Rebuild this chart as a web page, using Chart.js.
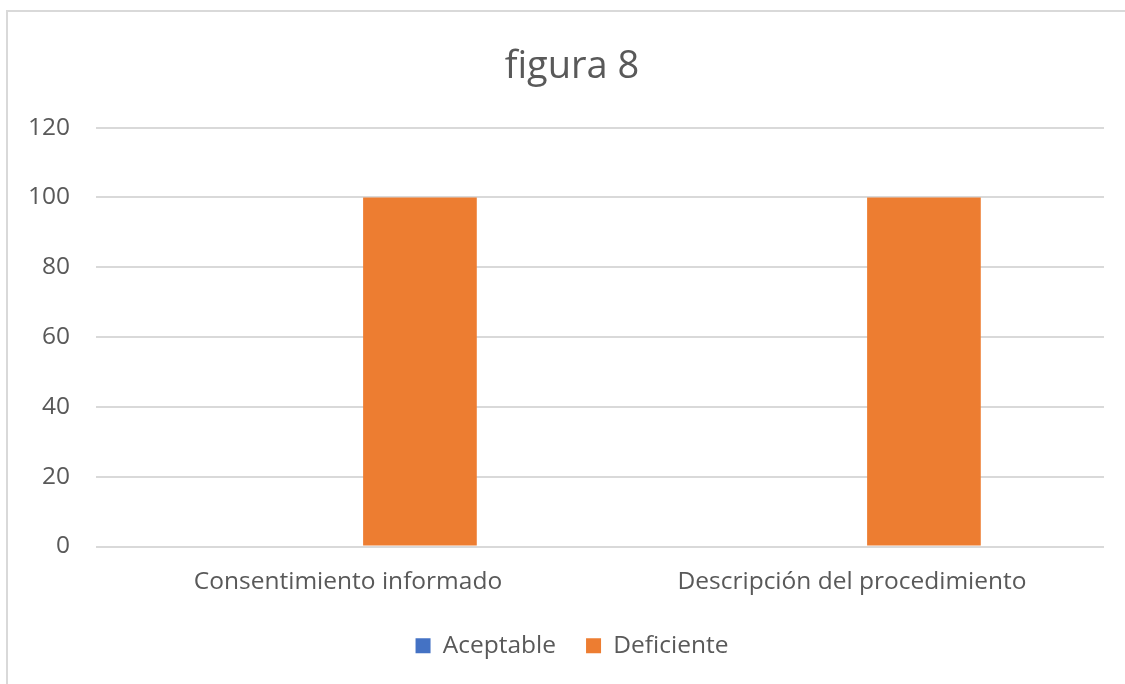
<!DOCTYPE html>
<html>
<head>
<meta charset="utf-8">
<script src="https://cdn.jsdelivr.net/npm/chart.js@4/dist/chart.umd.min.js"></script>
<style>
  html, body { margin: 0; padding: 0; background: #ffffff; }
  #wrap { position: relative; width: 1125px; height: 684px; overflow: hidden; }
  #frame { position: absolute; left: 6px; top: 10px; width: 1200px; height: 800px;
           border: 2px solid #d9d9d9; box-sizing: border-box; }
  canvas { position: absolute; left: 0; top: 0; }
</style>
</head>
<body>
<div id="wrap">
  <div id="frame"></div>
  <canvas id="c" width="1125" height="684"></canvas>
</div>
<script>
// Categories, series and axis ticks
const categories = ["Consentimiento informado", "Descripción del procedimiento"];
const aceptable = [0, 0];
const deficiente = [100, 100];
const yTicks = [0, 20, 40, 60, 80, 100, 120];

const FONT = "'Open Sans', sans-serif";
const TEXT = "#595959";

new Chart(document.getElementById("c"), {
  type: "bar",
  data: {
    labels: categories,
    datasets: [
      { label: "Aceptable", data: aceptable, backgroundColor: "#4472C4",
        categoryPercentage: 0.571, barPercentage: 0.79 },
      { label: "Deficiente", data: deficiente, backgroundColor: "#ED7D31",
        categoryPercentage: 0.571, barPercentage: 0.79 }
    ]
  },
  options: {
    responsive: false,
    animation: false,
    layout: { padding: { left: 19, right: 0, top: 0, bottom: 16 } },
    plugins: {
      title: {
        display: true, text: "figura 8", color: TEXT,
        font: { family: FONT, size: 38, weight: "normal" },
        padding: { top: 44, bottom: 38 }
      },
      legend: {
        position: "bottom",
        labels: {
          color: TEXT, font: { family: FONT, size: 24.5 },
          boxWidth: 15, boxHeight: 15, padding: 30
        }
      },
      tooltip: { enabled: false }
    },
    scales: {
      x: {
        afterFit: (s) => { s.height = 57; },
        grid: { display: false, drawTicks: false },
        border: { display: false },
        ticks: { color: TEXT, font: { family: FONT, size: 24.5 }, padding: 21, maxRotation: 0 }
      },
      y: {
        min: 0, max: 120,
        afterFit: (s) => { s.width = 77; },
        afterBuildTicks: (s) => { s.ticks = yTicks.map(v => ({ value: v })); },
        grid: { color: "#d9d9d9", lineWidth: 2, drawTicks: false },
        border: { display: false },
        ticks: { color: TEXT, font: { family: FONT, size: 24.5 }, padding: 26 }
      },
      // empty right-hand margin of the plot
      yRight: {
        position: "right",
        min: 0, max: 120,
        afterFit: (s) => { s.width = 21; },
        grid: { display: false, drawTicks: false },
        border: { display: false },
        ticks: { display: false }
      }
    }
  }
});
</script>
</body>
</html>
